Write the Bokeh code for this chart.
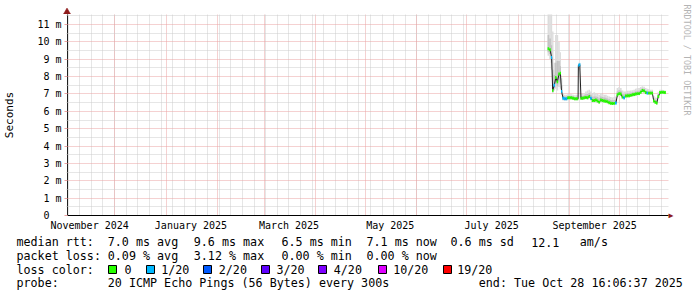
import numpy as np
import pandas as pd
from math import pi
from bokeh.plotting import figure
from bokeh.layouts import column, row
from bokeh.core.properties import value
from bokeh.models import (Range1d, FixedTicker, DatetimeTickFormatter, LinearAxis,
                          PrintfTickFormatter, ColumnDataSource)
from bokeh.embed import file_html
from bokeh.resources import INLINE

# ---------------- data ----------------
times = [
    "2025-08-19 04:00", "2025-08-20 04:00", "2025-08-21 03:00", "2025-08-21 18:00",
    "2025-08-22 17:00", "2025-08-23 16:00", "2025-08-24 12:00", "2025-08-25 15:00",
    "2025-08-26 10:00", "2025-08-27 02:00", "2025-08-28 01:00", "2025-08-29 01:30",
    "2025-08-30 02:00", "2025-08-31 01:00", "2025-09-01 01:30", "2025-09-02 02:00",
    "2025-09-03 01:00", "2025-09-04 01:30", "2025-09-05 02:00", "2025-09-06 01:00",
    "2025-09-06 05:00", "2025-09-07 01:30", "2025-09-07 19:00", "2025-09-08 19:00",
    "2025-09-09 18:00", "2025-09-10 19:00", "2025-09-11 19:00", "2025-09-12 18:00",
    "2025-09-13 19:00", "2025-09-14 18:00", "2025-09-15 18:00", "2025-09-16 19:00",
    "2025-09-17 18:00", "2025-09-18 18:00", "2025-09-19 19:00", "2025-09-20 18:00",
    "2025-09-21 18:00", "2025-09-22 19:00", "2025-09-23 18:00", "2025-09-24 18:00",
    "2025-09-25 19:00", "2025-09-26 18:00", "2025-09-27 18:00", "2025-09-28 19:00",
    "2025-09-29 18:00", "2025-09-30 18:00", "2025-10-01 19:00", "2025-10-02 18:00",
    "2025-10-03 18:00", "2025-10-04 19:00", "2025-10-05 18:00", "2025-10-06 18:00",
    "2025-10-07 19:00", "2025-10-08 18:00", "2025-10-09 18:00", "2025-10-10 19:00",
    "2025-10-11 18:00", "2025-10-12 18:00", "2025-10-13 19:00", "2025-10-14 18:00",
    "2025-10-15 18:00", "2025-10-16 19:00", "2025-10-17 18:00", "2025-10-18 18:00",
    "2025-10-19 19:00", "2025-10-20 18:00", "2025-10-21 14:00", "2025-10-22 13:00",
    "2025-10-23 09:00", "2025-10-24 08:00", "2025-10-25 09:00", "2025-10-26 09:00",
    "2025-10-27 08:00", "2025-10-28 09:00",
]
median_ms = [
    9.60, 9.55, 9.10, 7.20, 7.50, 7.95, 7.70, 8.15, 8.20, 7.15, 6.75, 6.72,
    6.72, 6.78, 6.78, 6.78, 6.75, 6.72, 6.72, 6.72, 8.65, 8.68, 6.75, 6.75,
    6.78, 6.80, 6.78, 6.85, 6.75, 6.62, 6.62, 6.65, 6.60, 6.53, 6.65, 6.62,
    6.60, 6.58, 6.55, 6.50, 6.47, 6.45, 6.46, 6.48, 6.95, 7.02, 7.00, 6.82,
    6.78, 6.88, 6.90, 6.90, 6.92, 6.95, 6.97, 7.00, 7.02, 7.02, 7.10, 7.20,
    7.18, 7.08, 7.05, 7.05, 7.05, 7.05, 6.60, 6.52, 6.48, 6.85, 7.08, 7.10,
    7.10, 7.08,
]
lost_pings = [
    0, 0, 1, 0, 1, 0, 0, 0, 0, 1, 1, 1,
    1, 0, 0, 0, 0, 0, 0, 0, 1, 1, 0, 0,
    0, 0, 0, 0, 1, 0, 0, 0, 0, 0, 0, 0,
    0, 0, 0, 0, 0, 0, 0, 1, 0, 0, 0, 0,
    1, 0, 0, 0, 0, 0, 0, 0, 0, 0, 0, 0,
    0, 0, 1, 0, 0, 0, 0, 0, 0, 0, 0, 0,
    0, 0,
]
smoke_outer_lo = [
    9.20, 9.00, 8.40, 7.00, 7.20, 7.30, 7.20, 7.40, 7.30, 6.95, 6.62, 6.62,
    6.62, 6.68, 6.68, 6.68, 6.66, 6.64, 6.64, 6.64, 8.40, 8.40, 6.66, 6.66,
    6.68, 6.70, 6.68, 6.72, 6.62, 6.52, 6.52, 6.55, 6.50, 6.44, 6.54, 6.52,
    6.50, 6.48, 6.46, 6.42, 6.38, 6.37, 6.38, 6.40, 6.82, 6.90, 6.88, 6.72,
    6.68, 6.78, 6.80, 6.80, 6.82, 6.85, 6.87, 6.90, 6.92, 6.92, 7.00, 7.08,
    7.06, 6.98, 6.95, 6.95, 6.95, 6.95, 6.50, 6.44, 6.40, 6.75, 6.98, 7.00,
    7.00, 6.98,
]
smoke_outer_hi = [
    11.60, 11.60, 11.60, 10.60, 8.80, 10.40, 10.40, 10.00, 9.40, 7.90, 7.05, 6.95,
    6.95, 7.00, 7.00, 6.98, 6.95, 6.92, 6.95, 6.95, 8.80, 8.80, 7.00, 7.02,
    7.05, 7.15, 7.20, 7.25, 7.15, 7.05, 7.10, 7.05, 7.00, 6.95, 7.05, 7.00,
    6.95, 6.95, 6.90, 6.85, 6.82, 6.80, 6.82, 6.85, 7.35, 7.40, 7.35, 7.20,
    7.15, 7.15, 7.18, 7.18, 7.20, 7.22, 7.25, 7.30, 7.35, 7.35, 7.40, 7.45,
    7.42, 7.35, 7.30, 7.28, 7.25, 7.25, 6.90, 6.80, 6.78, 7.10, 7.25, 7.25,
    7.22, 7.20,
]
smoke_inner_lo = [
    9.40, 9.30, 8.80, 7.10, 7.35, 7.60, 7.45, 7.70, 7.60, 7.05, 6.68, 6.66,
    6.66, 6.72, 6.72, 6.72, 6.70, 6.68, 6.68, 6.68, 8.55, 8.55, 6.70, 6.70,
    6.72, 6.74, 6.72, 6.78, 6.68, 6.57, 6.57, 6.60, 6.55, 6.48, 6.60, 6.57,
    6.55, 6.53, 6.50, 6.46, 6.42, 6.41, 6.42, 6.44, 6.88, 6.96, 6.94, 6.77,
    6.73, 6.83, 6.85, 6.85, 6.87, 6.90, 6.92, 6.95, 6.97, 6.97, 7.05, 7.14,
    7.12, 7.03, 7.00, 7.00, 7.00, 7.00, 6.55, 6.48, 6.44, 6.80, 7.03, 7.05,
    7.05, 7.03,
]
smoke_inner_hi = [
    10.40, 10.20, 9.80, 8.40, 8.10, 8.80, 8.90, 8.90, 8.60, 7.50, 6.90, 6.85,
    6.85, 6.90, 6.90, 6.88, 6.85, 6.82, 6.84, 6.84, 8.72, 8.72, 6.88, 6.88,
    6.92, 6.98, 7.00, 7.05, 6.95, 6.84, 6.86, 6.86, 6.82, 6.76, 6.86, 6.82,
    6.80, 6.78, 6.74, 6.70, 6.66, 6.64, 6.66, 6.68, 7.15, 7.22, 7.18, 7.02,
    6.98, 7.03, 7.05, 7.05, 7.07, 7.10, 7.12, 7.15, 7.18, 7.18, 7.25, 7.33,
    7.30, 7.22, 7.18, 7.17, 7.16, 7.16, 6.76, 6.67, 6.64, 6.98, 7.17, 7.18,
    7.17, 7.15,
]

x_start = "2024-11-02 16:06:37"
x_label_dates = ["2024-11-16", "2025-01-16", "2025-03-16", "2025-05-16",
                 "2025-07-16", "2025-09-16"]
month_grid_dates = ["2024-12-01", "2025-01-01", "2025-02-01", "2025-03-01",
                    "2025-04-01", "2025-05-01", "2025-06-01", "2025-07-01",
                    "2025-08-01", "2025-09-01", "2025-10-01"]
week_grid_first, week_grid_last = "2024-11-03", "2025-10-26"
y_ticks = [0, 1, 2, 3, 4, 5, 6, 7, 8, 9, 10, 11]
y_tick_labels = ["0\u00a0\u00a0", "1 m", "2 m", "3 m", "4 m", "5 m", "6 m",
                 "7 m", "8 m", "9 m", "10 m", "11 m"]

loss_levels = [0, 1, 2, 3, 4, 10, 19]
loss_colors = ["#26ff00", "#00b8ff", "#0059ff", "#5e00ff", "#7e00ff", "#dd00ff", "#ff0000"]
loss_names = ["0", "1/20", "2/20", "3/20", "4/20", "10/20", "19/20"]

rtt_items = ["median rtt:", "7.0 ms avg", "9.6 ms max", "6.5 ms min",
             "7.1 ms now", "0.6 ms sd", "12.1", "am/s"]
loss_items = ["packet loss:", "0.09 % avg", "3.12 % max", "0.00 % min", "0.00 % now"]
loss_title = "loss color:"
probe_items = ["probe:", "20 ICMP Echo Pings (56 Bytes) every 300s",
               "end: Tue Oct 28 16:06:37 2025"]
watermark = "RRDTOOL / TOBI OETIKER"

# ---------------- layout constants (pixels, on the 697x297 canvas) ----------------
W, H = 697, 297
TOP_H = 14                 # strip above the plot that holds the y-axis arrow head
MAIN_W = 676               # main figure width (frame + x-axis arrow head)
LEG_TOP = 235              # canvas y where the legend block starts
FL, FR, FB = 66, 669, 215  # frame left / right / bottom on the canvas
PX_PER_DAY = 600 / 360.0
PX_PER_MS = 17.36
MONO = "DejaVu Sans Mono"
ARROW = "#8e1b1b"
GRID_RED = "#eba3a3"
GRID_GRAY = "#cdcdcd"

t0 = pd.Timestamp(x_start)
t1 = t0 + pd.Timedelta(days=(FR - FL) / PX_PER_DAY)
y_top = (FB - TOP_H) / PX_PER_MS


def ms(ts):
    return pd.to_datetime(ts).values.astype("datetime64[ms]").astype(np.int64).astype(float)


t = ms(times)
half = 0.5 * 86400000.0
mids = (t[:-1] + t[1:]) / 2
left = np.concatenate([[t[0] - half], mids])
right = np.concatenate([mids, [t[-1] + half]])


def loss_color(n):
    c = loss_colors[0]
    for lvl, col in zip(loss_levels, loss_colors):
        if n >= lvl:
            c = col
    return c


med = np.array(median_ms)
src = ColumnDataSource(dict(
    t=t, left=left, right=right, med=med,
    olo=smoke_outer_lo, ohi=smoke_outer_hi,
    ilo=smoke_inner_lo, ihi=smoke_inner_hi,
    mlo=med - 0.085, mhi=med + 0.085,
    col=[loss_color(n) for n in lost_pings],
))


def blank(width, height, x_end, y_start, y_end):
    f = figure(width=width, height=height, output_backend="svg", toolbar_location=None,
               x_range=Range1d(0, x_end), y_range=Range1d(y_start, y_end),
               x_axis_location=None, y_axis_location=None,
               min_border=0, min_border_left=0, min_border_right=0,
               min_border_top=0, min_border_bottom=0,
               background_fill_color="white", border_fill_color="white",
               outline_line_color=None)
    f.frame_align = False
    f.grid.visible = False
    return f


# ---------------- main plot ----------------
main_h = LEG_TOP - TOP_H
p = figure(width=MAIN_W, height=main_h, x_axis_type="datetime", output_backend="svg",
           toolbar_location=None,
           x_range=Range1d(t0, t1), y_range=Range1d(0, y_top),
           min_border_left=FL, min_border_right=MAIN_W - FR,
           min_border_top=0, min_border_bottom=LEG_TOP - FB,
           background_fill_color="white", border_fill_color="white",
           outline_line_color=None)
p.frame_align = False
p.title.visible = False

# smoke
p.quad(left="left", right="right", bottom="olo", top="ohi", source=src,
       fill_color="#dcdcdc", line_color=None)
p.quad(left="left", right="right", bottom="ilo", top="ihi", source=src,
       fill_color="#c2c2c2", line_color=None)
# median line and loss-coloured median marks
p.line("t", "med", source=src, line_color="#202020", line_width=1)
p.quad(left="left", right="right", bottom="mlo", top="mhi", source=src,
       fill_color="col", line_color=None)

xa = p.xaxis[0]
xa.ticker = FixedTicker(ticks=list(ms(x_label_dates)))
fmt = "%B %Y"
xa.formatter = DatetimeTickFormatter(milliseconds=fmt, seconds=fmt, minsec=fmt,
                                     minutes=fmt, hourmin=fmt, hours=fmt,
                                     days=fmt, months=fmt, years=fmt)
xa.axis_line_color = "#000000"
xa.major_tick_line_color = None
xa.minor_tick_line_color = None
xa.major_tick_in = 0
xa.major_tick_out = 0
xa.minor_tick_in = 0
xa.minor_tick_out = 0
xa.major_label_standoff = 4
xa.major_label_text_font = MONO
xa.major_label_text_font_size = "10px"
xa.major_label_text_color = "#000000"

ya = p.yaxis[0]
ya.ticker = FixedTicker(ticks=y_ticks, minor_ticks=[v + 0.5 for v in y_ticks])
ya.major_label_overrides = {v: s for v, s in zip(y_ticks, y_tick_labels)}
ya.axis_line_color = "#202020"
ya.major_tick_in = 0
ya.major_tick_out = 3
ya.major_tick_line_color = GRID_RED
ya.minor_tick_in = 0
ya.minor_tick_out = 1
ya.minor_tick_line_color = GRID_GRAY
ya.major_label_standoff = 3
ya.major_label_text_font = MONO
ya.major_label_text_font_size = "10px"
ya.major_label_text_color = "#000000"
ya.axis_label = "Seconds"
ya.axis_label_text_font = MONO
ya.axis_label_text_font_size = "11px"
ya.axis_label_text_font_style = "normal"
ya.axis_label_text_color = "#000000"
ya.axis_label_standoff = 18

weeks = pd.date_range(week_grid_first, week_grid_last, freq="7D")
xg = p.xgrid[0]
xg.ticker = FixedTicker(ticks=list(ms(month_grid_dates)), minor_ticks=list(ms(weeks)))
for g in (xg, p.ygrid[0]):
    g.grid_line_color = GRID_RED
    g.grid_line_dash = "1 1"
    g.minor_grid_line_color = GRID_GRAY
    g.minor_grid_line_dash = "1 1"

# arrow head at the right end of the time axis
p.add_layout(LinearAxis(ticker=FixedTicker(ticks=[0.02]),
                        formatter=PrintfTickFormatter(format="\u25b6"),
                        axis_line_color=None, major_tick_line_color=None,
                        minor_tick_line_color=None, major_tick_in=0, major_tick_out=0,
                        minor_tick_in=0, minor_tick_out=0,
                        major_label_standoff=0, major_label_text_font=MONO,
                        major_label_text_font_size="8px", major_label_text_color=ARROW),
             "right")

# ---------------- strip above the plot: y-axis arrow head ----------------
top = blank(MAIN_W, TOP_H, MAIN_W, TOP_H, 0)
top.patch(x=[FL - 3, FL + 0.5, FL + 4], y=[13.5, 7.5, 13.5],
          fill_color=ARROW, line_color=ARROW, line_width=0.5)

# ---------------- watermark column on the right ----------------
wm = blank(W - MAIN_W, LEG_TOP, W - MAIN_W, 0, LEG_TOP)
wm.text(x=[686.5 - MAIN_W], y=[LEG_TOP - 4], text=[watermark], angle=-pi / 2,
        text_font=value(MONO), text_font_size=value("8.4px"), text_color="#b4b4b4",
        text_align="left", text_baseline="middle")

# ---------------- legend block under the chart ----------------
leg = blank(W, H - LEG_TOP, W, H - LEG_TOP, 0)

row_y = [241.7, 255.2, 269.3, 282.7]
rtt_x = [16, 107.3, 193.3, 281.0, 366.0, 450.0, 530.7, 579.3]
loss_x = [16, 107.3, 193.3, 281.0, 366.0]
probe_x = [16, 107.3, 478.3]
name_x = [124, 160.7, 218.3, 276, 333.3, 392.7, 456.7]
box_x = [108, 146, 203, 261, 318, 378, 443]

tx, ty, tt = [], [], []
for items, xs, ry in ((rtt_items, rtt_x, row_y[0]), (loss_items, loss_x, row_y[1]),
                      ([loss_title] + loss_names, [16] + name_x, row_y[2]),
                      (probe_items, probe_x, row_y[3])):
    for s, x in zip(items, xs):
        tx.append(x)
        ty.append(ry - LEG_TOP)
        tt.append(s)
leg.text(x=tx, y=ty, text=tt, text_font=value(MONO), text_font_size=value("11.7px"),
         text_color="#000000", text_align="left", text_baseline="middle")
leg.quad(left=box_x, right=[b + 8 for b in box_x],
         top=[265 - LEG_TOP] * len(box_x), bottom=[273 - LEG_TOP] * len(box_x),
         fill_color=loss_colors, line_color="#000000", line_width=1)

layout = column(row(column(top, p, spacing=0), wm, spacing=0), leg, spacing=0)
open("out.html", "w").write(file_html(layout, INLINE))
